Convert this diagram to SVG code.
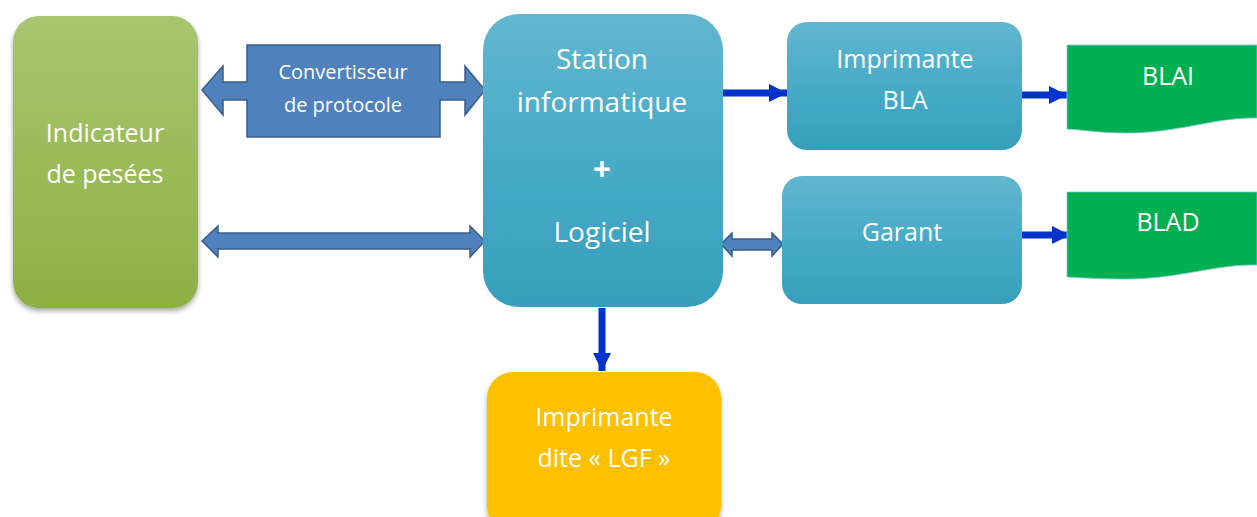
<svg xmlns="http://www.w3.org/2000/svg" width="1257" height="517" viewBox="0 0 1257 517">
  <defs>
    <linearGradient id="gGreen" x1="0" y1="0" x2="0" y2="1">
      <stop offset="0" stop-color="#a8c66f"/>
      <stop offset="1" stop-color="#8db043"/>
    </linearGradient>
    <linearGradient id="gAqua" x1="0" y1="0" x2="0" y2="1">
      <stop offset="0" stop-color="#62b6cf"/>
      <stop offset="0.5" stop-color="#47abc8"/>
      <stop offset="1" stop-color="#379fbb"/>
    </linearGradient>
    <filter id="shadow" x="-10%" y="-10%" width="120%" height="125%">
      <feDropShadow dx="0" dy="3" stdDeviation="2.5" flood-color="#000" flood-opacity="0.35"/>
    </filter>
    <marker id="head" viewBox="0 0 10 10" refX="10" refY="5" markerWidth="2.6" markerHeight="2.6" orient="auto" markerUnits="strokeWidth">
      <path d="M0,0 L10,5 L0,10 Z" fill="#0033cc"/>
    </marker>
  </defs>
  <style>
    .lbl { font-family: "Open Sans", "Liberation Sans", sans-serif; fill: #ffffff; text-anchor: middle; }
    .big { font-size: 25px; }
    .huge { font-size: 28px; }
    .small { font-size: 20px; }
    .dbl { fill: #4f81bd; stroke: #385d8a; stroke-width: 1.5; stroke-linejoin: miter; }
    .blue { stroke: #0033cc; stroke-width: 7; fill: none; }
  </style>

  <rect width="1257" height="517" fill="#ffffff"/>

  <!-- connectors -->
  <g id="connectors">
    <!-- converter with double arrow -->
    <path class="dbl" d="M202,90 L223,66 L223,82 L247,82 L247,45 L440,45 L440,82 L465,82 L465,66 L485,90 L465,115 L465,100 L440,100 L440,137 L247,137 L247,100 L223,100 L223,115 Z"/>
    <!-- long double arrow -->
    <path class="dbl" d="M202,241 L218,226 L218,233 L470,233 L470,226 L485,241 L470,257 L470,249 L218,249 L218,257 Z"/>
    <!-- short double arrow station / garant -->
    <path class="dbl" d="M721,244 L732,233 L732,239 L772,239 L772,233 L783,244 L772,256 L772,250 L732,250 L732,256 Z"/>
    <!-- single arrows -->
    <line class="blue" x1="723" y1="93" x2="787" y2="93" marker-end="url(#head)"/>
    <line class="blue" x1="1022" y1="95" x2="1067" y2="95" marker-end="url(#head)"/>
    <line class="blue" x1="1022" y1="235" x2="1070" y2="235" marker-end="url(#head)"/>
    <line class="blue" x1="602" y1="308" x2="602" y2="371" marker-end="url(#head)"/>
  </g>

  <g id="indicateur">
    <rect x="13" y="16" width="185" height="292" rx="26" fill="url(#gGreen)" filter="url(#shadow)"/>
    <text class="lbl big" x="105" y="142">Indicateur</text>
    <text class="lbl big" x="105" y="183">de pesées</text>
  </g>

  <g id="convertisseur">
    <text class="lbl small" x="343" y="79">Convertisseur</text>
    <text class="lbl small" x="343" y="112">de protocole</text>
  </g>

  <g id="station">
    <rect x="483" y="14" width="240" height="293" rx="36" fill="url(#gAqua)"/>
    <text class="lbl huge" x="602" y="69">Station</text>
    <text class="lbl huge" x="602" y="112">informatique</text>
    <text class="lbl" x="602" y="181" font-size="32" font-weight="bold">+</text>
    <text class="lbl huge" x="602" y="242">Logiciel</text>
  </g>

  <g id="imprimante-bla">
    <rect x="787" y="22" width="235" height="128" rx="20" fill="url(#gAqua)"/>
    <text class="lbl big" x="905" y="68">Imprimante</text>
    <text class="lbl big" x="905" y="109">BLA</text>
  </g>

  <g id="garant">
    <rect x="782" y="176" width="240" height="128" rx="20" fill="url(#gAqua)"/>
    <text class="lbl big" x="902" y="241">Garant</text>
  </g>

  <g id="imprimante-lgf">
    <rect x="487" y="372" width="234" height="160" rx="26" fill="#ffc000" filter="url(#shadow)"/>
    <text class="lbl big" x="604" y="426">Imprimante</text>
    <text class="lbl big" x="604" y="467">dite « LGF »</text>
  </g>

  <g id="blai">
    <path d="M1067,45 L1257,45 L1257,118 C1215,117 1180,133 1125,133 C1100,133 1085,130 1067,129 Z" fill="#00b050" stroke="#7fc6d8" stroke-width="0.8"/>
    <text class="lbl big" x="1168" y="85">BLAI</text>
  </g>

  <g id="blad">
    <path d="M1067,192 L1257,192 L1257,265 C1215,264 1180,279 1125,279 C1100,279 1085,278 1067,277 Z" fill="#00b050" stroke="#7fc6d8" stroke-width="0.8"/>
    <text class="lbl big" x="1168" y="231">BLAD</text>
  </g>
</svg>
